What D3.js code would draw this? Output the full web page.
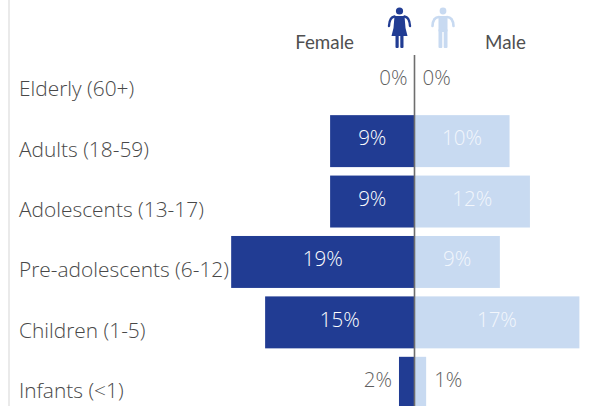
<!DOCTYPE html>
<html>
<head>
<meta charset="utf-8">
<script src="https://cdn.jsdelivr.net/npm/d3@7"></script>
<style>
html, body { margin: 0; padding: 0; background: #fff; overflow: hidden; }
text { font-family: "Open Sans", sans-serif; }
</style>
</head>
<body>
<div id="chart"></div>
<script>
const width = 589;
const height = 406;
const femaleColor = "#213c93";
const maleColor = "#c8daf1";

const categories = ["Elderly (60+)", "Adults (18-59)", "Adolescents (13-17)", "Pre-adolescents (6-12)", "Children (1-5)", "Infants (<1)"];
const femaleValues = [0, 8.7, 8.7, 18.9, 15.4, 1.6];
const maleValues = [0, 9.8, 11.9, 8.8, 17, 1.2];
const femaleLabels = ["0%", "9%", "9%", "19%", "15%", "2%"];
const maleLabels = ["0%", "10%", "12%", "9%", "17%", "1%"];

const svg = d3.select("#chart")
    .append("svg")
        .attr("width", width)
        .attr("height", height)
        .attr("viewBox", [0, 0, width, height])
        .style("display", "block");

const y = d3.scaleBand()
    .domain(categories)
    .range([50.5, 413])
    .paddingInner(0.14)
    .paddingOuter(0.07);

const xFemale = d3.scaleLinear().domain([0, 19]).range([414.5, 230.2]);
const xMale = d3.scaleLinear().domain([0, 17]).range([414.5, 579.4]);

// light rule on the far left
svg.append("line")
    .attr("x1", 9).attr("x2", 9)
    .attr("y1", 0).attr("y2", height)
    .attr("stroke", "#e3e3e3")
    .attr("stroke-width", 1.5);

// bars
svg.append("g").selectAll("rect")
    .data(categories)
    .enter().append("rect")
        .attr("x", (d, i) => xFemale(femaleValues[i]))
        .attr("y", d => y(d))
        .attr("width", (d, i) => xFemale(0) - xFemale(femaleValues[i]))
        .attr("height", y.bandwidth())
        .attr("fill", femaleColor);

svg.append("g").selectAll("rect")
    .data(categories)
    .enter().append("rect")
        .attr("x", xMale(0))
        .attr("y", d => y(d))
        .attr("width", (d, i) => xMale(maleValues[i]) - xMale(0))
        .attr("height", y.bandwidth())
        .attr("fill", maleColor);

// centre axis
svg.append("line")
    .attr("x1", 414.5).attr("x2", 414.5)
    .attr("y1", 55).attr("y2", height)
    .attr("stroke", "#6e6e6e")
    .attr("stroke-width", 1.6);

// category labels
svg.append("g").selectAll("text")
    .data(categories)
    .enter().append("text")
        .attr("x", 19)
        .attr("y", d => y(d) + y.bandwidth() / 2 + 15.5)
        .attr("font-size", 20.9)
        .attr("font-weight", 300)
        .attr("fill", "#484848")
        .text(d => d);

// value labels: inside the bar when it is big enough, else outside
const isInside = v => v > 5;

svg.append("g").selectAll("text")
    .data(categories)
    .enter().append("text")
        .attr("x", (d, i) => isInside(femaleValues[i]) ? (xFemale(femaleValues[i]) + xFemale(0)) / 2 : xFemale(femaleValues[i]) - 7)
        .attr("y", d => y(d) + y.bandwidth() / 2 - 3)
        .attr("dy", ".35em")
        .attr("text-anchor", (d, i) => isInside(femaleValues[i]) ? "middle" : "end")
        .attr("font-size", 20.5)
        .attr("font-weight", 300)
        .attr("fill", (d, i) => isInside(femaleValues[i]) ? "#fff" : "#5f5f5f")
        .text((d, i) => femaleLabels[i]);

svg.append("g").selectAll("text")
    .data(categories)
    .enter().append("text")
        .attr("x", (d, i) => isInside(maleValues[i]) ? (xMale(maleValues[i]) + xMale(0)) / 2 : xMale(maleValues[i]) + 8)
        .attr("y", d => y(d) + y.bandwidth() / 2 - 3)
        .attr("dy", ".35em")
        .attr("text-anchor", (d, i) => isInside(maleValues[i]) ? "middle" : "start")
        .attr("font-size", 20.5)
        .attr("font-weight", 300)
        .attr("fill", (d, i) => isInside(maleValues[i]) ? "#f2f6fc" : "#5f5f5f")
        .text((d, i) => maleLabels[i]);

// header
svg.append("text")
    .attr("x", 354).attr("y", 49)
    .attr("text-anchor", "end")
    .attr("font-size", 18.8)
    .attr("fill", "#505050")
    .style("font-family", "Lato, sans-serif")
    .text("Female");

svg.append("text")
    .attr("x", 485).attr("y", 49)
    .attr("font-size", 18.8)
    .attr("fill", "#505050")
    .style("font-family", "Lato, sans-serif")
    .text("Male");

// female icon
const fIcon = svg.append("g").attr("transform", "translate(399.5,7)").attr("fill", femaleColor);
fIcon.append("circle").attr("cx", 0).attr("cy", 4).attr("r", 3.6);
fIcon.append("path").attr("d", "M-5,9 L5,9 L6,21 L8,29 L-8,29 L-6,21 Z");
fIcon.append("path").attr("d", "M-5,9.5 Q-10,10 -10.5,19").attr("fill", "none").attr("stroke", femaleColor).attr("stroke-width", 2.4).attr("stroke-linecap", "round");
fIcon.append("path").attr("d", "M5,9.5 Q10,10 10.5,19").attr("fill", "none").attr("stroke", femaleColor).attr("stroke-width", 2.4).attr("stroke-linecap", "round");
fIcon.append("rect").attr("x", -4).attr("y", 28).attr("width", 3.2).attr("height", 13).attr("rx", 1);
fIcon.append("rect").attr("x", 0.8).attr("y", 28).attr("width", 3.2).attr("height", 13).attr("rx", 1);

// male icon
const mIcon = svg.append("g").attr("transform", "translate(443,7)").attr("fill", maleColor);
mIcon.append("circle").attr("cx", 0).attr("cy", 4).attr("r", 3.4);
mIcon.append("rect").attr("x", -4.5).attr("y", 9).attr("width", 9).attr("height", 16).attr("rx", 1.5);
mIcon.append("path").attr("d", "M-4,10 Q-10,10 -10.5,19").attr("fill", "none").attr("stroke", maleColor).attr("stroke-width", 2.6).attr("stroke-linecap", "round");
mIcon.append("path").attr("d", "M4,10 Q10,10 10.5,19").attr("fill", "none").attr("stroke", maleColor).attr("stroke-width", 2.6).attr("stroke-linecap", "round");
mIcon.append("rect").attr("x", -4.5).attr("y", 22).attr("width", 3.8).attr("height", 19).attr("rx", 1);
mIcon.append("rect").attr("x", 0.7).attr("y", 22).attr("width", 3.8).attr("height", 19).attr("rx", 1);
</script>
</body>
</html>
